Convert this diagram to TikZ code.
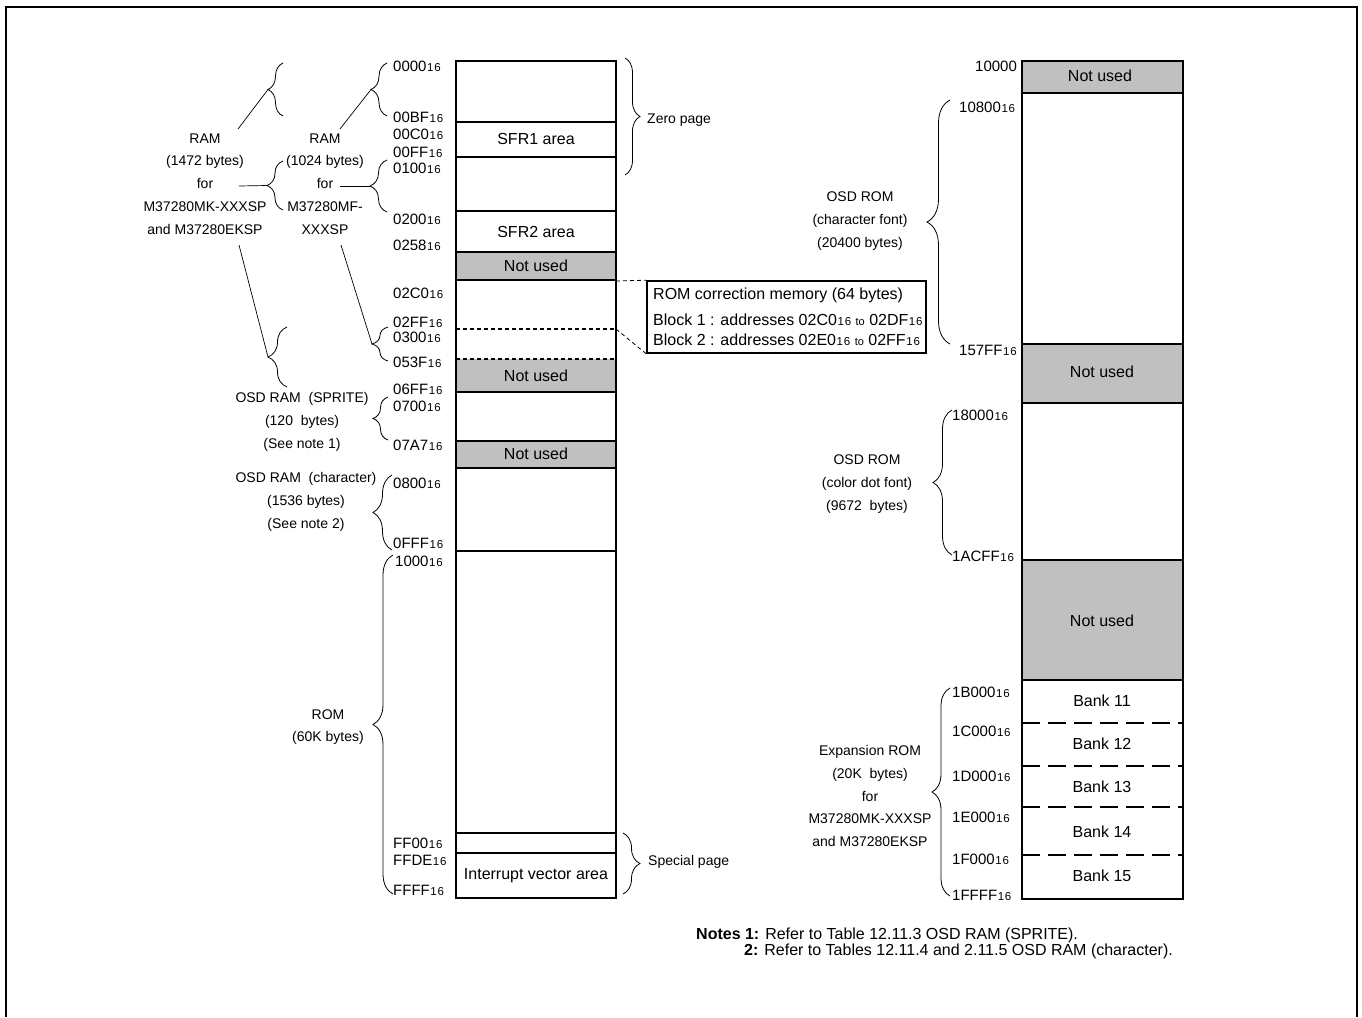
\documentclass[tikz,border=0pt]{standalone}
\usepackage{fontspec}
\setmainfont{Liberation Sans}
\usepackage{tikz}
\usetikzlibrary{decorations.pathreplacing}

\definecolor{unusedgray}{RGB}{192,192,192}
\newcommand{\sixteen}{{\kern0.6pt\fontsize{11.5}{11}\selectfont 1\kern0.8pt 6}}
\newcommand{\smallto}{{\fontsize{11}{11}\selectfont to}}

\begin{document}
\begin{tikzpicture}[x=1pt, y=-1pt,
  col/.style={draw, line width=2pt},
  unused/.style={fill=unusedgray},
  area/.style={font=\fontsize{16}{18}\selectfont, inner sep=0pt},
  addr/.style={font=\fontsize{15}{17}\selectfont, anchor=west, inner sep=0pt},
  lbl/.style={font=\fontsize{14}{22.8}\selectfont, align=center, inner sep=0pt},
  brc/.style={decorate, decoration={brace, amplitude=#1}, line width=0.8pt},
  lead/.style={line width=0.7pt},
  sep/.style={line width=1.5pt, dash pattern=on 4pt off 3pt},
  banksep/.style={line width=2pt, dash pattern=on 18pt off 8pt},
  link/.style={line width=0.8pt, dash pattern=on 4pt off 3pt}
]

\useasboundingbox (0,0) rectangle (1362,1017);

% Page frame
\draw[line width=2.5pt] (6,1017) -- (6,7) -- (1357,7) -- (1357,1017);

% Left memory map (0000 to FFFF)
\fill[unused] (456,252) rectangle (616,280);
\fill[unused] (456,359) rectangle (616,392);
\fill[unused] (456,441) rectangle (616,468);
\draw[col] (456,61) rectangle (616,898);
\foreach \y in {122,157,211,252,280,392,441,468,551,833,853}
  \draw[col] (456,\y) -- (616,\y);
\draw[line width=2.6pt] (456,280) rectangle (616,392);
\draw[sep] (456,329) -- (616,329);
\draw[sep] (456,359) -- (616,359);

\node[area] (sfr1) at (536,139) {SFR1 area};
\node[area] (sfr2) at (536,232) {SFR2 area};
\node[area] (nu1) at (536,266) {Not used};
\node[area] (nu2) at (536,376) {Not used};
\node[area] (nu3) at (536,454) {Not used};
\node[area] (intv) at (536,876) {Interrupt vector area};

% Left addresses
\node[addr] (a0000) at (393,66) {0000\sixteen};
\node[addr] (a00bf) at (393,117) {00BF\sixteen};
\node[addr] (a00c0) at (393,134) {00C0\sixteen};
\node[addr] (a00ff) at (393,152) {00FF\sixteen};
\node[addr] (a0100) at (393,168) {0100\sixteen};
\node[addr] (a0200) at (393,219) {0200\sixteen};
\node[addr] (a0258) at (393,245) {0258\sixteen};
\node[addr] (a02c0) at (393,293) {02C0\sixteen};
\node[addr] (a02ff) at (393,322) {02FF\sixteen};
\node[addr] (a0300) at (393,337) {0300\sixteen};
\node[addr] (a053f) at (393,362) {053F\sixteen};
\node[addr] (a06ff) at (393,389) {06FF\sixteen};
\node[addr] (a0700) at (393,406) {0700\sixteen};
\node[addr] (a07a7) at (393,445) {07A7\sixteen};
\node[addr] (a0800) at (393,483) {0800\sixteen};
\node[addr] (a0fff) at (393,543) {0FFF\sixteen};
\node[addr] (a1000) at (395,561) {1000\sixteen};
\node[addr] (aff00) at (393,843) {FF00\sixteen};
\node[addr] (affde) at (393,860) {FFDE\sixteen};
\node[addr] (affff) at (393,890) {FFFF\sixteen};

% ROM correction memory
\node[draw, line width=1.6pt, minimum width=279pt, minimum height=72pt, inner sep=0pt] (romcorr) at (786.5,317) {};
\node[area, anchor=west] (rcm) at (653,295) {ROM correction memory (64 bytes)};
\node[area, anchor=west] (blk1) at (653,320) {Block 1 : addresses 02C0\sixteen\ \smallto\ 02DF\sixteen};
\node[area, anchor=west] (blk2) at (653,340) {Block 2 : addresses 02E0\sixteen\ \smallto\ 02FF\sixteen};
\coordinate (c02c0) at (616,281);
\coordinate (c0300) at (616,329);
\draw[link] (c02c0) -- (romcorr.north west);
\draw[link] (c0300) -- (romcorr.south west);

% Braces on the left
\draw[brc=15] (283,116) -- (283,63);
\draw[brc=16] (387,116) -- (387,63);
\draw[brc=16] (283,210) -- (283,161);
\draw[brc=17] (387,212) -- (387,160);
\draw[brc=19] (287,387) -- (287,327);
\draw[brc=16] (388,361) -- (388,327);
\draw[brc=15] (388,440) -- (388,397);
\draw[brc=19] (392,550) -- (392,475);
\draw[brc=20] (393,894) -- (393,555);
\draw[brc=15] (625,58) -- (625,175);
\draw[brc=17] (623,833) -- (623,894);

% Left labels
\node[lbl] (ramA) at (205,184) {RAM\\(1472 bytes)\\for\\M37280MK-XXXSP\\and M37280EKSP};
\node[lbl] (ramB) at (325,184) {RAM\\(1024 bytes)\\for\\M37280MF-\\XXXSP};
\node[lbl] (sprite) at (302,422) {OSD RAM~ (SPRITE)\\(120~ bytes)\\(See note 1)};
\node[lbl] (osdchr) at (306,502) {OSD RAM~ (character)\\(1536 bytes)\\(See note 2)};
\node[lbl] (rom) at (328,727) {ROM\\(60K bytes)};
\node[lbl, anchor=west] (zero) at (647,120) {Zero page};
\node[lbl, anchor=west] (special) at (648,862) {Special page};

% Leader lines to brace tips
\coordinate (ldA1) at (238,129);
\coordinate (tipA1) at (268,89.5);
\coordinate (ldB1) at (340,129);
\coordinate (tipB1) at (371,89.5);
\coordinate (ldA2) at (239,186);
\coordinate (tipA2) at (267,185.5);
\coordinate (ldB2) at (340,186);
\coordinate (tipB2) at (370,186);
\coordinate (ldA3) at (239,245);
\coordinate (tipA3) at (268,357);
\coordinate (ldB3) at (341,245);
\coordinate (tipB3) at (372,344);
\draw[lead] (ldA1) -- (tipA1);
\draw[lead] (ldB1) -- (tipB1);
\draw[lead] (ldA2) -- (tipA2);
\draw[lead] (ldB2) -- (tipB2);
\draw[lead] (ldA3) -- (tipA3);
\draw[lead] (ldB3) -- (tipB3);

% Right memory map (10000 to 1FFFF)
\fill[unused] (1022,61) rectangle (1183,93);
\fill[unused] (1022,344) rectangle (1183,403);
\fill[unused] (1022,560) rectangle (1183,680);
\draw[col] (1022,61) rectangle (1183,899);
\foreach \y in {93,344,403,560,680}
  \draw[col] (1022,\y) -- (1183,\y);
\foreach \y in {723,766,807,855}
  \draw[banksep] (1022,\y) -- (1183,\y);

\node[area] (nu4) at (1100,76) {Not used};
\node[area] (nu5) at (1102,372) {Not used};
\node[area] (nu6) at (1102,621) {Not used};
\node[area] (bank11) at (1102,701) {Bank 11};
\node[area] (bank12) at (1102,744) {Bank 12};
\node[area] (bank13) at (1102,787) {Bank 13};
\node[area] (bank14) at (1102,832) {Bank 14};
\node[area] (bank15) at (1102,876) {Bank 15};

% Right addresses
\node[addr] (a10000) at (975,66) {10000};
\node[addr] (a10800) at (959,107) {10800\sixteen};
\node[addr] (a157ff) at (959,350) {157FF\sixteen};
\node[addr] (a18000) at (952,415) {18000\sixteen};
\node[addr] (a1acff) at (952,556) {1ACFF\sixteen};
\node[addr] (a1b000) at (952,692) {1B000\sixteen};
\node[addr] (a1c000) at (952,731) {1C000\sixteen};
\node[addr] (a1d000) at (952,776) {1D000\sixteen};
\node[addr] (a1e000) at (952,817) {1E000\sixteen};
\node[addr] (a1f000) at (952,859) {1F000\sixteen};
\node[addr] (a1ffff) at (952,895) {1FFFF\sixteen};

% Braces and labels on the right
\draw[brc=23] (950,344) -- (950,100);
\draw[brc=19] (952,555) -- (952,410);
\draw[brc=18] (950,896) -- (950,688);
\node[lbl] (osdrom1) at (860,221) {OSD ROM\\(character font)\\(20400 bytes)};
\node[lbl] (osdrom2) at (867,484) {OSD ROM\\(color dot font)\\(9672~ bytes)};
\node[lbl] (exprom) at (870,796) {Expansion ROM\\(20K~ bytes)\\for\\M37280MK-XXXSP\\and M37280EKSP};

% Notes
\node[anchor=west, inner sep=0pt, font=\fontsize{16}{16}\selectfont] (note1) at (696,935) {\textbf{Notes 1:} Refer to Table 12.11.3 OSD RAM (SPRITE).};
\node[anchor=west, inner sep=0pt, font=\fontsize{16}{16}\selectfont] (note2) at (744,951) {\textbf{2:} Refer to Tables 12.11.4 and 2.11.5 OSD RAM (character).};

\end{tikzpicture}
\end{document}
